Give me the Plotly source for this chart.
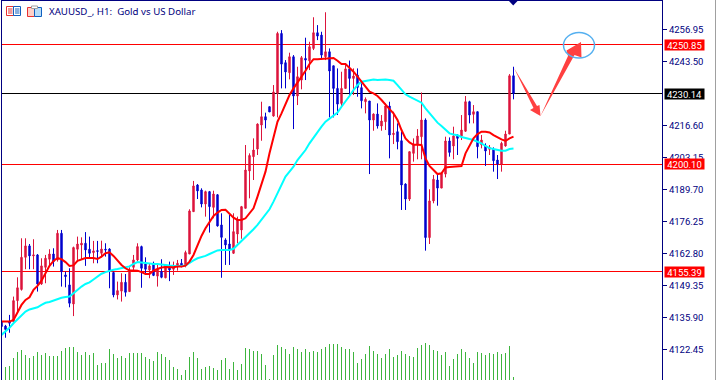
import math
import plotly.graph_objects as go

bar_index = list(range(-1, 128))
colors_up = [0,0,0,1,1,1,1,0,1,0,1,1,1,0,1,0,0,0,1,1,1,0,0,1,0,1,0,0,0,1,1,0,1,1,1,0,0,1,0,1,0,1,0,1,1,0,1,1,1,0,0,1,0,1,0,0,0,0,1,1,
             1,1,1,1,1,1,0,0,1,1,0,0,1,0,1,1,0,1,1,0,0,1,0,0,0,1,1,0,1,0,0,1,0,1,0,1,1,0,1,0,0,0,1,1,1,1,0,1,1,0,1,1,0,1,0,1,1,0,1,0,1,0,1,0,0,1,1,1,0]
body_top = [4134.2,4132.3,4134.2,4143.0,4148.4,4161.2,4166.0,4166.0,4162.2,4162.2,4157.6,4160.8,4162.6,4162.6,4171.3,4171.3,4153.8,4149.6,4165.3,4166.8,4167.1,4167.1,4164.6,4163.9,4164.0,4164.7,4164.6,4164.7,4154.8,4147.2,4150.7,4150.7,4155.9,4160.1,4165.7,4165.7,4158.4,4157.6,4158.7,4156.2,4155.2,4158.0,4157.0,4157.0,4158.7,4158.7,4163.2,4180.7,4191.2,4191.6,4189.5,4188.8,4188.8,4187.8,4187.5,4174.8,4168.5,4166.8,4172.0,4177.2,
            4182.5,4197.9,4204.0,4206.3,4217.2,4220.3,4220.3,4224.5,4230.7,4255.3,4255.3,4243.0,4245.5,4245.5,4237.1,4245.1,4244.8,4249.7,4255.6,4255.6,4254.6,4247.6,4247.6,4241.7,4232.2,4232.2,4240.4,4240.4,4237.4,4237.8,4232.5,4227.6,4226.9,4221.4,4221.4,4218.5,4224.8,4224.8,4213.3,4214.0,4210.2,4192.0,4205.6,4208.8,4212.2,4218.9,4218.9,4184.9,4194.0,4193.7,4196.5,4210.1,4210.1,4212.2,4212.6,4214.7,4226.6,4226.6,4222.4,4222.4,4210.5,4208.0,4207.4,4206.6,4202.1,4209.1,4213.0,4237.5,4237.5]
body_bot = [4132.1,4130.9,4133.5,4134.2,4143.0,4147.7,4161.2,4161.8,4161.8,4150.0,4150.0,4157.0,4160.4,4159.4,4160.1,4155.2,4153.1,4141.9,4141.6,4164.6,4166.4,4164.3,4162.9,4163.2,4163.7,4162.9,4164.3,4155.6,4145.4,4145.4,4147.0,4146.5,4146.8,4157.0,4160.1,4156.6,4156.2,4155.9,4153.6,4153.3,4152.8,4152.6,4155.9,4156.2,4157.6,4157.6,4158.0,4162.6,4180.4,4189.1,4183.6,4183.6,4182.5,4182.2,4174.4,4169.6,4166.4,4164.6,4162.9,4171.0,
            4172.7,4181.8,4197.5,4203.5,4206.7,4216.8,4218.9,4222.3,4220.6,4230.1,4242.4,4239.1,4238.8,4229.0,4229.0,4235.7,4244.1,4243.8,4249.0,4254.2,4246.2,4245.5,4239.5,4232.2,4225.6,4225.9,4232.2,4236.4,4236.4,4232.6,4227.0,4226.6,4218.9,4218.9,4216.4,4216.4,4218.2,4212.6,4212.8,4209.8,4191.6,4185.7,4185.7,4204.9,4208.8,4211.9,4169.5,4169.5,4184.9,4190.3,4190.3,4196.2,4205.3,4208.0,4211.2,4212.2,4214.2,4221.0,4221.3,4207.7,4208.5,4205.9,4206.6,4201.8,4200.4,4200.4,4208.0,4213.0,4230.1]
highs = [4134.6,4132.8,4137.0,4144.7,4152.8,4169.2,4169.2,4166.8,4168.8,4162.6,4160.8,4162.2,4164.6,4165.0,4172.7,4172.7,4155.2,4156.6,4165.7,4169.9,4169.6,4171.8,4169.9,4168.1,4168.1,4168.2,4167.1,4165.0,4155.2,4151.0,4154.5,4154.2,4157.0,4162.2,4167.1,4166.1,4161.2,4158.7,4159.4,4158.4,4160.4,4158.4,4159.4,4159.4,4160.1,4160.5,4164.0,4181.4,4193.3,4192.0,4190.2,4189.2,4189.1,4189.2,4187.8,4179.7,4169.2,4179.0,4179.7,4178.3,
         4182.8,4208.4,4204.9,4211.2,4217.5,4226.6,4222.0,4224.5,4233.6,4256.0,4256.7,4244.1,4247.2,4246.2,4241.3,4245.8,4253.5,4251.8,4262.1,4258.8,4256.0,4264.2,4249.0,4241.7,4240.6,4239.2,4242.0,4243.9,4240.6,4240.6,4234.3,4228.4,4226.9,4221.7,4225.9,4221.0,4225.9,4226.6,4222.4,4217.5,4214.0,4192.3,4205.6,4211.2,4215.1,4230.5,4219.6,4189.8,4195.8,4195.8,4196.5,4211.9,4211.6,4216.1,4213.0,4221.0,4229.0,4227.0,4225.2,4222.4,4212.6,4209.1,4208.4,4207.4,4204.2,4209.8,4214.4,4238.2,4241.3]
lows = [4131.4,4127.4,4129.5,4134.2,4138.4,4147.2,4156.2,4156.2,4156.2,4146.8,4149.6,4150.3,4157.3,4157.3,4159.4,4148.9,4148.6,4140.2,4136.5,4160.1,4160.1,4157.6,4161.2,4158.7,4158.7,4161.2,4161.5,4148.2,4144.4,4143.5,4142.6,4144.7,4146.8,4155.9,4159.4,4148.4,4153.8,4152.4,4153.3,4148.9,4152.4,4152.4,4151.2,4153.8,4155.6,4157.0,4157.0,4162.6,4180.4,4185.7,4182.2,4178.3,4171.6,4177.6,4174.1,4152.6,4158.0,4158.0,4162.6,4167.1,
        4169.0,4181.8,4186.0,4193.7,4204.2,4210.2,4215.4,4222.3,4220.3,4220.0,4232.2,4232.2,4236.0,4215.1,4225.2,4231.8,4235.7,4239.9,4248.3,4252.5,4244.4,4244.1,4220.0,4220.0,4221.0,4224.2,4232.2,4229.4,4229.4,4228.7,4223.8,4221.7,4196.2,4214.4,4215.3,4214.4,4214.7,4202.8,4208.8,4206.6,4181.1,4181.1,4184.9,4201.4,4202.4,4202.4,4164.0,4166.8,4183.9,4182.9,4190.3,4194.8,4203.5,4202.4,4204.2,4210.5,4213.9,4217.5,4217.5,4202.8,4207.0,4199.6,4204.2,4197.2,4194.1,4197.2,4207.7,4213.0,4227.6]
ma_fast = [4134.2,4134.2,4134.2,4134.9,4138.4,4141.2,4143.3,4144.4,4147.5,4149.2,4151.4,4154.5,4157.6,4159.7,4160.9,4160.4,4159.2,4157.6,4157.8,4159.7,4160.4,4160.9,4160.9,4160.9,4160.5,4161.5,4162.9,4163.3,4161.8,4159.8,4158.0,4156.6,4155.7,4155.7,4155.6,4155.0,4154.2,4154.2,4155.6,4156.3,4156.9,4157.1,4156.9,4157.0,4157.3,4157.3,4157.7,4159.4,4162.2,4166.4,4170.2,4173.4,4176.2,4178.6,4180.0,4181.1,4181.2,4179.7,4177.9,4176.9,
           4176.9,4177.6,4179.7,4181.8,4186.7,4192.3,4197.2,4204.9,4211.2,4218.2,4221.7,4225.9,4229.4,4232.2,4234.6,4236.8,4239.6,4242.4,4244.5,4244.5,4244.7,4244.8,4245.1,4245.0,4243.8,4242.4,4242.4,4240.9,4239.2,4237.1,4235.0,4232.9,4230.8,4230.1,4229.0,4227.3,4225.2,4223.5,4221.7,4218.9,4214.7,4211.2,4209.5,4208.5,4208.5,4208.4,4202.8,4199.6,4197.9,4196.2,4196.5,4199.0,4199.2,4199.4,4199.6,4199.6,4204.9,4208.4,4211.2,4213.0,4214.0,4214.0,4213.7,4212.6,4211.6,4210.8,4210.1,4211.2,4211.9]
ma_slow = [4128.6,4130.0,4131.6,4133.5,4135.1,4137.0,4138.4,4139.3,4139.8,4140.2,4141.2,4142.1,4142.4,4143.0,4143.8,4144.2,4144.5,4144.7,4146.1,4147.6,4148.9,4150.0,4150.7,4151.9,4153.1,4154.3,4155.0,4155.6,4156.0,4156.3,4156.7,4156.9,4157.4,4158.4,4159.2,4159.0,4158.7,4158.7,4158.4,4158.4,4158.1,4158.0,4157.8,4157.7,4157.6,4157.6,4157.8,4159.0,4159.9,4160.8,4161.2,4161.8,4162.6,4163.4,4164.1,4164.3,4164.3,4164.3,4164.8,4166.4,
           4167.8,4169.6,4171.3,4173.0,4174.8,4176.9,4179.0,4181.4,4184.6,4188.1,4191.6,4195.1,4197.2,4199.3,4202.1,4204.2,4206.3,4209.1,4211.6,4214.0,4216.1,4218.2,4219.6,4220.6,4222.0,4224.5,4226.6,4229.0,4231.5,4233.6,4235.0,4235.4,4235.7,4235.9,4235.7,4235.9,4235.9,4235.7,4235.4,4233.6,4231.5,4229.7,4228.7,4227.9,4227.0,4226.2,4223.8,4221.7,4219.6,4217.8,4216.4,4214.7,4213.3,4212.8,4212.5,4211.8,4211.2,4210.9,4210.5,4209.9,4209.1,4208.0,4207.1,4206.7,4206.3,4206.0,4206.0,4206.7,4206.9]
volumes = [1000,1270,1400,2230,2830,3000,2500,2230,2430,2800,2500,2730,2400,2400,2400,2900,3200,3300,3300,2800,2530,2800,2500,2730,1500,1700,1700,3100,2600,2200,2400,2200,2700,2700,2700,2700,2300,2100,1900,2800,2600,2300,2000,1300,1100,500,1000,2300,2800,2200,1100,1300,1400,1200,1000,2000,2200,1100,1800,1000,
           1600,3200,3100,2900,2900,2600,1500,100,2500,3500,3300,3100,2600,3300,3100,2800,3100,2800,2900,2800,3100,3300,3600,3600,3600,3300,3100,3100,2800,1700,2100,2600,3400,2900,2600,2200,2600,3100,2300,2500,2900,2600,2400,2300,3200,3500,3700,3500,3000,2900,2500,2800,1400,2100,2600,3100,2800,2200,1700,2800,2700,2500,2700,2600,2800,2600,2700,3400,300]

price_ticks = [4256.95, 4243.50, 4216.60, 4203.15, 4189.70, 4176.25, 4162.80, 4149.35, 4135.90, 4122.45]
red_levels = [4250.85, 4200.10, 4155.39]
black_level = [4230.14]
title_text = "XAUUSD_, H1:  Gold vs US Dollar"

opens = [b if u else t for u, t, b in zip(colors_up, body_top, body_bot)]
closes = [t if u else b for u, t, b in zip(colors_up, body_top, body_bot)]

W, H = 716, 380
L, R, T, B = 2, 662, 1, 380
NAVY = "#000080"
PRICE_TOP, PRICE_BOTTOM = 4268.93, 4109.64

def px(x):
    return (x - L) / (R - L)

def py(y):
    return 1 - (y - T) / (B - T)

def level_row(price):
    # paper position of the pixel row that holds this price, so 1px levels stay crisp
    row = T + (PRICE_TOP - price) / (PRICE_TOP - PRICE_BOTTOM) * (B - T)
    return py(math.floor(row) + 0.5)

fig = go.Figure()
fig.add_trace(go.Bar(x=bar_index, y=volumes, width=0.25, yaxis="y2",
                     marker=dict(color="#3DB53D", line=dict(width=0))))
fig.add_trace(go.Candlestick(x=bar_index, open=opens, high=highs, low=lows, close=closes,
                             whiskerwidth=0,
                             increasing=dict(line=dict(color="#DC143C", width=1), fillcolor="#DC143C"),
                             decreasing=dict(line=dict(color="#0000CD", width=1), fillcolor="#0000CD")))
fig.add_trace(go.Scatter(x=bar_index, y=ma_slow, mode="lines", line=dict(color="#00FFFF", width=2)))
fig.add_trace(go.Scatter(x=bar_index, y=ma_fast, mode="lines", line=dict(color="#FF0000", width=2)))

shapes = []
for v in red_levels:
    shapes.append(dict(type="line", xref="paper", yref="paper", x0=0, x1=1, y0=level_row(v), y1=level_row(v),
                       layer="below", line=dict(color="#FF0000", width=1)))
for v in black_level:
    shapes.append(dict(type="line", xref="paper", yref="paper", x0=0, x1=1, y0=level_row(v), y1=level_row(v),
                       layer="below", line=dict(color="#000000", width=1)))

def line(x0, y0, x1, y1, color, width=1):
    shapes.append(dict(type="line", xref="paper", yref="paper", x0=px(x0), x1=px(x1), y0=py(y0), y1=py(y1),
                       line=dict(color=color, width=width)))

def rect(x0, y0, x1, y1, color, fill="rgba(0,0,0,0)", width=1):
    shapes.append(dict(type="rect", xref="paper", yref="paper", x0=px(x0), x1=px(x1), y0=py(y0), y1=py(y1),
                       line=dict(color=color, width=width), fillcolor=fill))

def poly(points, fill, outline=None):
    path = "M " + " L ".join(f"{px(x):.5f},{py(y):.5f}" for x, y in points) + " Z"
    shapes.append(dict(type="path", xref="paper", yref="paper", path=path, fillcolor=fill,
                       line=dict(color=outline or fill, width=0)))

# chart frame
line(1.5, 0, 1.5, 380, NAVY)
line(1, 0.5, 663, 0.5, NAVY)
line(662.5, 0, 662.5, 380, NAVY)
line(715.5, 0, 715.5, 380, "#A0A0A0")
poly([(509, 1), (517.5, 1), (513.2, 5.5)], NAVY)

# title icons
rect(6.5, 6.5, 13.5, 15.5, "#E83030")
rect(13.5, 6.5, 20.5, 15.5, "#1060C0")
for yy in (9, 11, 13):
    line(8, yy, 12.5, yy, "#E83030")
    line(15, yy, 19.5, yy, "#1060C0")
rect(27.5, 7.5, 34.5, 16.5, "#E83030", "#FFD0C8")
rect(34.5, 7.5, 41.5, 16.5, "#1060C0", "#B8DCF8")
rect(31.5, 6, 37.5, 8.5, "#A0A0A0", "#FFFFFF")

# drawn arrows and circle
poly([(514, 68), (537, 106), (539.5, 105), (540.5, 116), (530, 110), (533.5, 108)], "#FF4040")
poly([(540.5, 116), (568, 56), (566.5, 50.5), (581, 42), (581.5, 57.5), (574.5, 55)], "#FF4040")
shapes.append(dict(type="circle", xref="paper", yref="paper", x0=px(563.5), x1=px(594.5), y0=py(58), y1=py(32.5),
                   line=dict(color="#55B0F0", width=1.5)))

annotations = [dict(xref="paper", yref="paper", x=px(47), y=py(12), text=title_text, showarrow=False,
                    xanchor="left", yanchor="middle", font=dict(family="Noto Sans", size=9.7, color=NAVY))]
for v, bg in [(4250.85, "#FF0000"), (4230.14, "#000000"), (4200.10, "#FF0000"), (4155.39, "#FF0000")]:
    annotations.append(dict(xref="paper", yref="paper", x=px(684.5), y=level_row(v), text=f"{v:.2f}", showarrow=False,
                            xanchor="center", yanchor="middle", bgcolor=bg, width=39, height=10, borderpad=0,
                            font=dict(family="Roboto", size=9.5, color="#FFFFFF")))

fig.update_layout(
    width=W, height=H, autosize=False,
    margin=dict(l=L, r=W - R, t=T, b=H - B, pad=0),
    paper_bgcolor="#FFFFFF", plot_bgcolor="#FFFFFF",
    showlegend=False, boxgap=0.5, bargap=0,
    shapes=shapes, annotations=annotations,
    xaxis=dict(range=[-0.875, 164.125], visible=False, rangeslider=dict(visible=False), fixedrange=True),
    yaxis=dict(range=[PRICE_BOTTOM, PRICE_TOP], side="right", tickmode="array", tickvals=price_ticks,
               ticktext=[f"{v:.2f}" for v in price_ticks], ticks="outside", ticklen=4, tickcolor=NAVY,
               tickwidth=1, showgrid=False, zeroline=False, showline=False,
               tickfont=dict(family="Roboto", size=9.5, color=NAVY)),
    yaxis2=dict(range=[0, 37900], overlaying="y", visible=False, fixedrange=True),
)
fig.write_html("out.html", config={"displayModeBar": False},
               post_script="document.documentElement.style.overflow='hidden';document.body.style.margin='0';")
